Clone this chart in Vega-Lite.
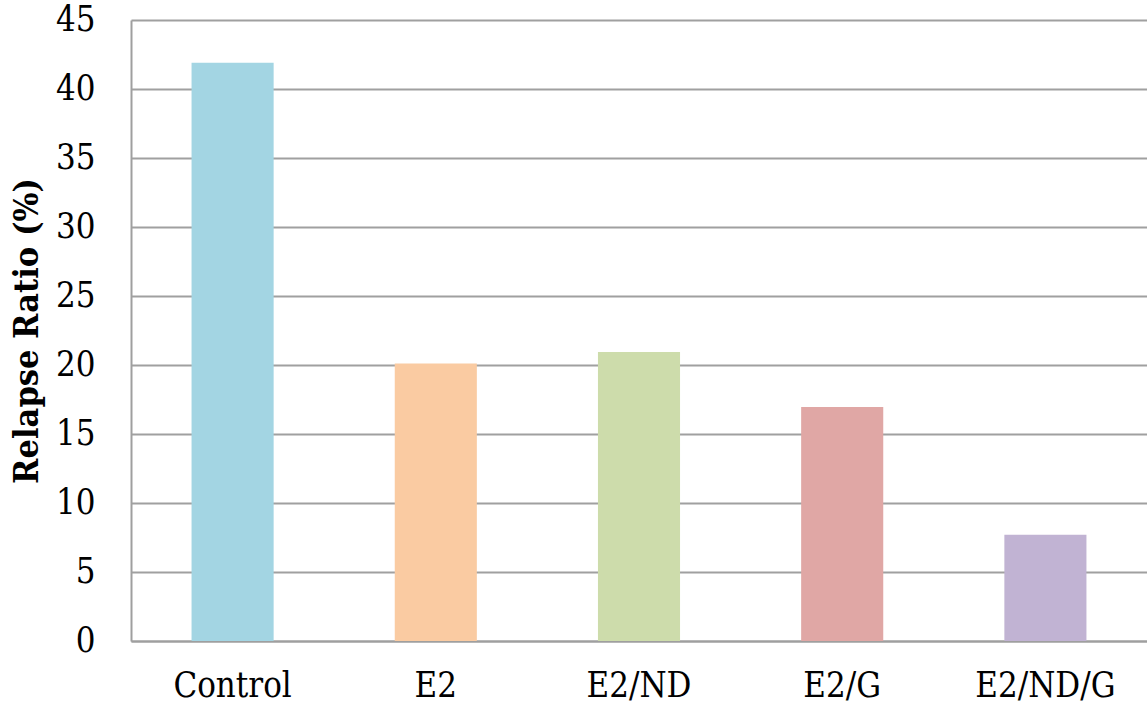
{
  "$schema": "https://vega.github.io/schema/vega-lite/v6.json",
  "width": 1016,
  "height": 621,
  "autosize": {"type": "none"},
  "padding": {"left": 131, "top": 20, "right": 0, "bottom": 72},
  "background": "white",
  "data": {
    "values": [
      {"group": "Control", "ratio": 41.9},
      {"group": "E2", "ratio": 20.1},
      {"group": "E2/ND", "ratio": 20.95},
      {"group": "E2/G", "ratio": 16.95},
      {"group": "E2/ND/G", "ratio": 7.7}
    ]
  },
  "config": {
    "view": {"stroke": null},
    "font": "DejaVu Serif Condensed"
  },
  "mark": {"type": "bar"},
  "encoding": {
    "x": {
      "field": "group",
      "type": "nominal",
      "sort": null,
      "scale": {"paddingInner": 0.596, "paddingOuter": 0.298},
      "axis": {
        "title": null,
        "labelAngle": 0,
        "labelFont": "DejaVu Serif Condensed",
        "labelFontSize": 34.5,
        "labelColor": "black",
        "labelPadding": 28,
        "ticks": false,
        "domainColor": "#9f9f9f",
        "domainWidth": 2,
        "grid": false
      }
    },
    "y": {
      "field": "ratio",
      "type": "quantitative",
      "scale": {"domain": [0, 45], "nice": false},
      "axis": {
        "title": "Relapse Ratio (%)",
        "titleFont": "DejaVu Serif Condensed",
        "titleFontSize": 34,
        "titleFontWeight": "bold",
        "titleColor": "black",
        "titlePadding": 11,
        "values": [0, 5, 10, 15, 20, 25, 30, 35, 40, 45],
        "labelFont": "DejaVu Serif Condensed",
        "labelFontSize": 34.5,
        "labelColor": "black",
        "labelPadding": 36,
        "ticks": false,
        "domainColor": "#9f9f9f",
        "domainWidth": 2,
        "grid": true,
        "gridColor": "#a0a0a0",
        "gridWidth": 2
      }
    },
    "color": {
      "field": "group",
      "type": "nominal",
      "sort": null,
      "scale": {
        "domain": ["Control", "E2", "E2/ND", "E2/G", "E2/ND/G"],
        "range": ["#a3d5e3", "#facba2", "#cddcab", "#e0a7a5", "#c1b3d3"]
      },
      "legend": null
    }
  }
}
